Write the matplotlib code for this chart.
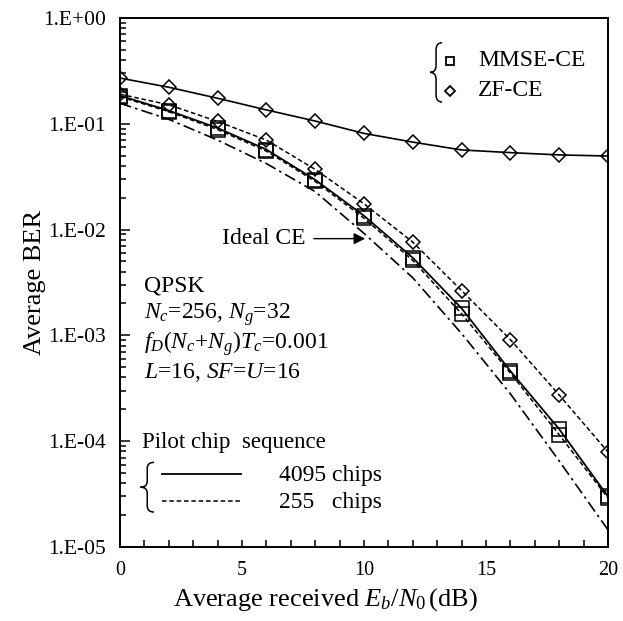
import matplotlib
matplotlib.use("Agg")
import matplotlib.pyplot as plt
from matplotlib.path import Path
from matplotlib.patches import PathPatch
from matplotlib.ticker import LogLocator, FixedLocator, NullFormatter, MultipleLocator

plt.rcParams['font.family'] = ['Liberation Serif', 'DejaVu Serif']
plt.rcParams['mathtext.fontset'] = 'custom'
plt.rcParams['mathtext.rm'] = 'Liberation Serif'
plt.rcParams['mathtext.it'] = 'Liberation Serif:italic'

# data
ebn0 = [0, 2, 4, 6, 8, 10, 12, 14, 16, 18, 20]
zf_4095 = [0.27, 0.221, 0.174, 0.135, 0.106, 0.081, 0.067, 0.0565, 0.0533, 0.0507, 0.0495]
zf_255 = [0.19, 0.151, 0.105, 0.070, 0.037, 0.0175, 0.0076, 0.00265, 9.1e-4, 2.73e-4, 7.9e-5]
mmse_4095 = [0.184, 0.133, 0.091, 0.057, 0.0295, 0.0135, 0.0054, 0.0018, 4.6e-4, 1.3e-4, 3.0e-5]
mmse_255 = [0.180, 0.130, 0.088, 0.055, 0.0285, 0.0128, 0.0051, 0.0016, 4.4e-4, 1.15e-4, 2.9e-5]
ideal = [0.156, 0.110, 0.070, 0.042, 0.0228, 0.0092, 0.0035, 0.00104, 2.8e-4, 6.5e-5, 1.45e-5]
ytick_vals = [1e0, 1e-1, 1e-2, 1e-3, 1e-4, 1e-5]
ytick_labels = ['1.E+00', '1.E-01', '1.E-02', '1.E-03', '1.E-04', '1.E-05']


def brace(ax, x0, top, bot, w, lw=1.1):
    # left curly brace drawn in axes fraction coords, tip pointing left
    mid = (top + bot) / 2.0
    r = (top - bot) * 0.12
    xm = x0 - w / 2.0
    verts = [(x0, top), (xm, top), (xm, top - r),
             (xm, mid + r),
             (xm, mid), (x0 - w, mid),
             (xm, mid), (xm, mid - r),
             (xm, bot + r),
             (xm, bot), (x0, bot)]
    codes = [Path.MOVETO, Path.CURVE3, Path.CURVE3,
             Path.LINETO,
             Path.CURVE3, Path.CURVE3,
             Path.CURVE3, Path.CURVE3,
             Path.LINETO,
             Path.CURVE3, Path.CURVE3]
    ax.add_patch(PathPatch(Path(verts, codes), fill=False, lw=lw,
                           transform=ax.transAxes, clip_on=False))


fig = plt.figure(figsize=(6.23, 6.21), dpi=100, facecolor='white')
ax = fig.add_axes([0.1926, 0.1192, 0.7833, 0.852])

dash = (0, (3, 1.8))
dashdot = (0, (7, 2.5, 1.5, 2.5))
sq = dict(marker='s', ms=10, mfc='none', mec='black', mew=1.1)
di = dict(marker='D', ms=7.5, mfc='none', mec='black', mew=1.1)

ax.plot(ebn0, zf_4095, color='black', lw=1.2, ls='-', **di)
ax.plot(ebn0, zf_255, color='black', lw=1.1, ls=dash, **di)
ax.plot(ebn0, mmse_4095, color='black', lw=1.3, ls='-', **sq)
ax.plot(ebn0, mmse_255, color='black', lw=1.1, ls=dash, **sq)
ax.plot(ebn0, ideal, color='black', lw=1.2, ls=dashdot)

ax.set_yscale('log')
ax.set_xlim(0, 20)
ax.set_ylim(1e-5, 1)
ax.yaxis.set_major_locator(FixedLocator(ytick_vals))
ax.set_yticklabels(ytick_labels)
ax.yaxis.set_minor_locator(LogLocator(base=10, subs=range(2, 10)))
ax.yaxis.set_minor_formatter(NullFormatter())
ax.xaxis.set_major_locator(MultipleLocator(5))
ax.xaxis.set_minor_locator(MultipleLocator(1))
ax.tick_params(axis='both', which='both', direction='in', top=False, right=False, width=1.1)
ax.tick_params(axis='y', which='major', length=7, pad=10, labelsize=15.5)
ax.tick_params(axis='y', which='minor', length=4)
ax.tick_params(axis='x', which='major', length=5, pad=10, labelsize=14.5)
ax.tick_params(axis='x', which='minor', length=5)
for s in ax.spines.values():
    s.set_linewidth(1.4)

ax.set_ylabel('Average BER', fontsize=19)
ax.yaxis.set_label_coords(-0.152, 0.5)
ax.set_xlabel('Average received $\\mathit{E_b}/\\mathit{N}_0\\,$(dB)', fontsize=19)
ax.xaxis.set_label_coords(0.42, -0.074)

# top-right legend
brace(ax, 0.660, 0.953, 0.841, 0.0246)
ax.plot([0.677], [0.919], transform=ax.transAxes, ls='none', marker='s', ms=6,
        mfc='none', mec='black', mew=1.3)
ax.plot([0.677], [0.862], transform=ax.transAxes, ls='none', marker='D', ms=5.5,
        mfc='none', mec='black', mew=1.3)
ax.text(0.734, 0.919, 'MMSE-CE', transform=ax.transAxes, fontsize=17, va='center')
ax.text(0.734, 0.862, 'ZF-CE', transform=ax.transAxes, fontsize=17, va='center')

# Ideal CE arrow
ax.annotate('Ideal CE', xy=(10.05, 0.0082), xytext=(4.18, 0.0082), fontsize=17,
            va='center', ha='left',
            arrowprops=dict(arrowstyle='-|>', color='black', lw=1.0, shrinkA=4, shrinkB=0))

# parameter block
params = ['QPSK',
          '$\\mathit{N_c}$=256, $\\mathit{N_g}$=32',
          '$\\mathit{f_D}$($\\mathit{N_c}$+$\\mathit{N_g}$)$\\mathit{T_c}$=0.001',
          '$\\mathit{L}$=16, $\\mathit{SF}$=$\\mathit{U}$=16']
for i, t in enumerate(params):
    ax.text(0.049, 0.493 - i * 0.0545, t, transform=ax.transAxes, fontsize=17, va='center')

# bottom-left legend
ax.text(0.045, 0.197, 'Pilot chip  sequence', transform=ax.transAxes, fontsize=16.5, va='center')
brace(ax, 0.0697, 0.160, 0.066, 0.0277)
ax.plot([0.086, 0.248], [0.138, 0.138], transform=ax.transAxes, color='black', lw=1.3)
ax.plot([0.086, 0.248], [0.087, 0.087], transform=ax.transAxes, color='black', lw=1.1, ls=dash)
ax.text(0.326, 0.136, '4095 chips', transform=ax.transAxes, fontsize=17, va='center')
ax.text(0.326, 0.085, '255   chips', transform=ax.transAxes, fontsize=17, va='center')

fig.savefig('out.png', dpi=100, facecolor='white')
